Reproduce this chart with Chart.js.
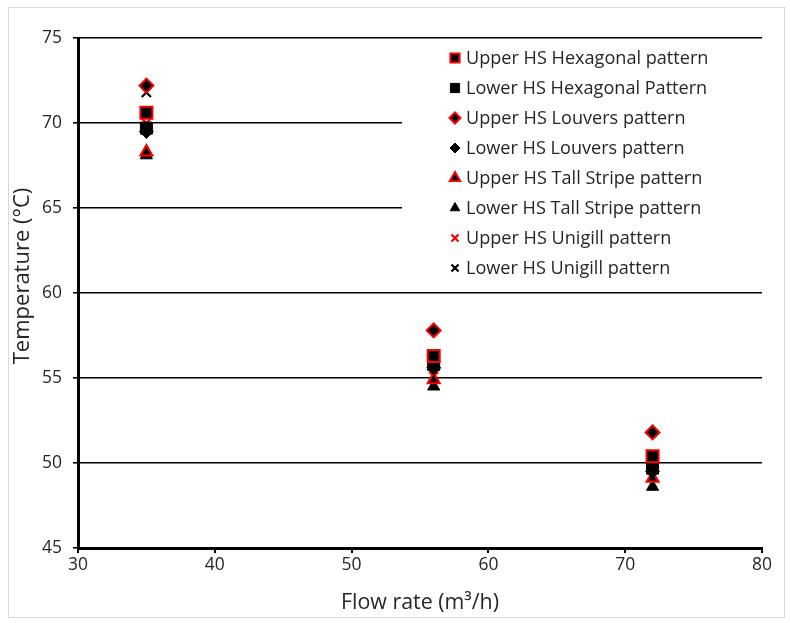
<!DOCTYPE html>
<html>
<head>
<meta charset="utf-8">
<script src="https://cdn.jsdelivr.net/npm/chart.js@4.4.0/dist/chart.umd.min.js"></script>
<style>
  html, body { margin: 0; padding: 0; background: #fff; }
  #wrap { width: 790px; height: 623px; position: relative; }
</style>
</head>
<body>
<div id="wrap"><canvas id="c" width="790" height="623"></canvas></div>
<script>
const flowRates = [35, 56, 72];
const seriesLabels = [
  'Upper HS Hexagonal pattern',
  'Lower HS Hexagonal Pattern',
  'Upper HS Louvers pattern',
  'Lower HS Louvers pattern',
  'Upper HS Tall Stripe pattern',
  'Lower HS Tall Stripe pattern',
  'Upper HS Unigill pattern',
  'Lower HS Unigill pattern'
];
const upperHex = [70.6, 56.3, 50.4];
const lowerHex = [69.7, 55.8, 49.7];
const upperLouvers = [72.2, 57.8, 51.8];
const lowerLouvers = [69.5, 55.6, 49.5];
const upperTall = [68.3, 54.9, 49.1];
const lowerTall = [68.1, 54.5, 48.6];
const upperUnigill = [70.0, 55.1, 49.8];
const lowerUnigill = [71.8, 56.0, 50.0];
const yTicks = [45, 50, 55, 60, 65, 70, 75];
const xTicks = [30, 40, 50, 60, 70, 80];
const xTitle = 'Flow rate (m³/h)';
const yTitle = 'Temperature (°C)';

const FONT = '"Open Sans", Lato, sans-serif';
const TXT = '#262626';

// size a font so that a string spans a given width
function fitSize(text, width) {
  const c = document.createElement('canvas').getContext('2d');
  c.font = '100px ' + FONT;
  return Math.round(100 * width / c.measureText(text).width * 10) / 10;
}
const legendSize = Math.min(19, fitSize(seriesLabels[0], 243));
const xTitleSize = Math.min(22, fitSize(xTitle, 158));
const yTitleSize = Math.min(22, fitSize(yTitle, 203));

const styles = [
  {pointStyle: 'rect', radius: 8.5, bg: '#000', border: '#ff0000', bw: 2, lr: 6.5},
  {pointStyle: 'rect', radius: 8.5, bg: '#000', border: '#000', bw: 1, lr: 6.5},
  {pointStyle: 'rectRot', radius: 7, bg: '#000', border: '#ff0000', bw: 2, lr: 5.5},
  {pointStyle: 'rectRot', radius: 7, bg: '#000', border: '#000', bw: 1, lr: 5},
  {pointStyle: 'triangle', radius: 7, bg: '#000', border: '#ff0000', bw: 2, lr: 6},
  {pointStyle: 'triangle', radius: 7, bg: '#000', border: '#000', bw: 1, lr: 5.5},
  {pointStyle: 'crossRot', radius: 6.5, bg: '#ff0000', border: '#ff0000', bw: 2.2, lr: 5},
  {pointStyle: 'crossRot', radius: 6.5, bg: '#000', border: '#000', bw: 2.2, lr: 5}
];
const values = [upperHex, lowerHex, upperLouvers, lowerLouvers, upperTall, lowerTall, upperUnigill, lowerUnigill];

const datasets = values.map((vals, i) => ({
  label: seriesLabels[i],
  data: flowRates.map((x, j) => ({x: x, y: vals[j]})),
  pointStyle: styles[i].pointStyle,
  pointRadius: styles[i].radius,
  pointHoverRadius: styles[i].radius,
  backgroundColor: styles[i].bg,
  borderColor: styles[i].border,
  pointBorderWidth: styles[i].bw,
  showLine: false
}));

const frame = {
  id: 'frame',
  beforeDraw(chart) {
    const ctx = chart.ctx;
    ctx.save();
    ctx.fillStyle = '#fff';
    ctx.fillRect(0, 0, chart.width, chart.height);
    ctx.strokeStyle = '#d9d9d9';
    ctx.lineWidth = 1;
    ctx.strokeRect(8.5, 7.5, 776, 610);
    ctx.restore();
  },
  afterDraw(chart) {
    const ctx = chart.ctx;
    ctx.save();
    ctx.translate(23, 276);
    ctx.rotate(-Math.PI / 2);
    ctx.font = yTitleSize + 'px ' + FONT;
    ctx.fillStyle = TXT;
    ctx.textAlign = 'center';
    ctx.textBaseline = 'middle';
    ctx.fillText(yTitle, 0, 0);
    ctx.restore();
  }
};

const legendBox = {
  id: 'legendBox',
  afterDatasetsDraw(chart) {
    const ctx = chart.ctx;
    const ca = chart.chartArea;
    ctx.save();
    ctx.fillStyle = '#fff';
    ctx.fillRect(402, 45, ca.right + 2 - 402, 240);
    ctx.font = legendSize + 'px ' + FONT;
    ctx.textBaseline = 'middle';
    ctx.textAlign = 'left';
    chart.data.datasets.forEach((ds, i) => {
      const y = 58 + i * 30;
      const s = styles[i];
      ctx.fillStyle = s.bg;
      ctx.strokeStyle = s.border;
      ctx.lineWidth = s.bw;
      Chart.helpers.drawPoint(ctx, {pointStyle: s.pointStyle, radius: s.lr, rotation: 0, borderWidth: s.bw}, 455, y);
      ctx.fillStyle = TXT;
      ctx.fillText(ds.label, 466, y + 1);
    });
    ctx.restore();
  }
};

new Chart(document.getElementById('c'), {
  type: 'scatter',
  data: {datasets: datasets},
  plugins: [frame, legendBox],
  options: {
    responsive: false,
    animation: false,
    events: [],
    layout: {padding: {left: 8, right: 28, top: 38, bottom: 0}},
    plugins: {legend: {display: false}, tooltip: {enabled: false}},
    scales: {
      x: {
        type: 'linear',
        min: 30, max: 80,
        afterBuildTicks(scale) { scale.ticks = xTicks.map(v => ({value: v})); },
        afterFit(scale) { scale.height = 75; },
        grid: {drawOnChartArea: false, drawTicks: true, tickLength: 5, color: '#000', lineWidth: 2},
        border: {display: true, color: '#000', width: 3},
        ticks: {color: TXT, font: {family: FONT, size: 17.5}, padding: 2, maxRotation: 0},
        title: {display: true, text: xTitle, color: TXT, font: {family: FONT, size: xTitleSize}, padding: {top: 4, bottom: 7}}
      },
      y: {
        type: 'linear',
        min: 45, max: 75,
        afterBuildTicks(scale) { scale.ticks = yTicks.map(v => ({value: v})); },
        afterFit(scale) { scale.width = 70; },
        grid: {drawTicks: true, tickLength: 5, color: '#000', lineWidth: 1.6},
        border: {display: true, color: '#000', width: 3},
        ticks: {color: TXT, font: {family: FONT, size: 17.5}, padding: 11},
        title: {display: false, text: yTitle}
      }
    }
  }
});
</script>
</body>
</html>
